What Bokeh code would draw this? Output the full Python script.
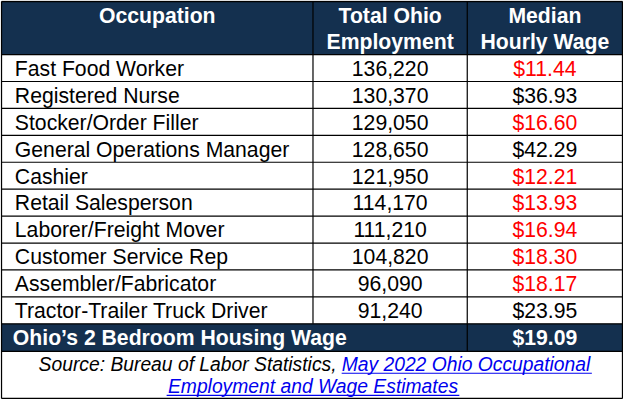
from bokeh.plotting import figure
from bokeh.models import Range1d
from bokeh.core.properties import value
from bokeh.embed import file_html
from bokeh.resources import INLINE

# ---- data ----
headers_col1 = ["Occupation"]
headers_col2 = ["Total Ohio", "Employment"]
headers_col3 = ["Median", "Hourly Wage"]
occupations = [
    "Fast Food Worker",
    "Registered Nurse",
    "Stocker/Order Filler",
    "General Operations Manager",
    "Cashier",
    "Retail Salesperson",
    "Laborer/Freight Mover",
    "Customer Service Rep",
    "Assembler/Fabricator",
    "Tractor-Trailer Truck Driver",
]
employment = [136220, 130370, 129050, 128650, 121950, 114170, 111210, 104820, 96090, 91240]
median_wage = [11.44, 36.93, 16.60, 42.29, 12.21, 13.93, 16.94, 18.30, 18.17, 23.95]
housing_label = "Ohio\u2019s 2 Bedroom Housing Wage"
housing_wage = 19.09
source_prefix = "Source: Bureau of Labor Statistics,"
source_link_1 = "May 2022 Ohio Occupational"
source_link_2 = "Employment and Wage Estimates"

# ---- style / layout ----
FONT = value("Liberation Sans")
NAVY = "#14304F"
RED = "#FF0000"
BLUE = "#0000EE"
FS = "21.2px"
FS_SRC = "19.3px"
MID = 7.6       # baseline -> visual middle offset (body font)
MID_SRC = 6.9   # same for source font

X0, X1, X2, X3 = 5, 320, 476, 633
Y_TOP, Y_HEAD, ROW_H, Y_BOTTOM = 5, 59, 27.4, 409
n = len(occupations)
row_tops = [Y_HEAD + i * ROW_H for i in range(n)]
Y_ROWS_END = Y_HEAD + n * ROW_H
Y_HW_END = Y_ROWS_END + 28
C1_LEFT = 18.5
C2_MID = (X1 + X2) / 2
C3_MID = (X2 + X3) / 2

p = figure(width=623, height=399, x_range=Range1d(4, 634), y_range=Range1d(410, 4),
           output_backend="svg", toolbar_location=None, min_border=0,
           x_axis_type=None, y_axis_type=None)
p.outline_line_color = None
p.background_fill_color = "white"

# navy bands
p.quad(left=[X0, X0], right=[X3, X3], top=[Y_TOP, Y_ROWS_END], bottom=[Y_HEAD, Y_HW_END],
       fill_color=NAVY, line_color=None)

# grid lines
hy = [Y_HEAD] + row_tops[1:] + [Y_ROWS_END, Y_HW_END]
p.segment(x0=[X0] * len(hy), x1=[X3] * len(hy), y0=hy, y1=hy, line_color="black", line_width=1.2)
p.segment(x0=[X1, X2], x1=[X1, X2], y0=[Y_TOP, Y_TOP], y1=[Y_ROWS_END, Y_HW_END],
          line_color="black", line_width=1.2)
# outer border
p.segment(x0=[X0, X3, X0, X0], x1=[X3, X3, X3, X0], y0=[Y_TOP, Y_TOP, Y_BOTTOM, Y_TOP],
          y1=[Y_TOP, Y_BOTTOM, Y_BOTTOM, Y_BOTTOM], line_color="black", line_width=1.3)

common = dict(text_font=FONT, text_baseline="middle")

# header text
hb1, hb2 = 26.7 - MID, 53.0 - MID
p.text(x=[(X0 + X1) / 2], y=[hb1], text=headers_col1, text_font_size=FS,
       text_font_style="bold", text_color="white", text_align="center", **common)
p.text(x=[C2_MID] * 2, y=[hb1, hb2], text=headers_col2, text_font_size=FS,
       text_font_style="bold", text_color="white", text_align="center", **common)
p.text(x=[C3_MID] * 2, y=[hb1, hb2], text=headers_col3, text_font_size=FS,
       text_font_style="bold", text_color="white", text_align="center", **common)

# body rows
mids = [t + 21.6 - MID for t in row_tops]
p.text(x=[C1_LEFT] * n, y=mids, text=occupations, text_font_size=FS,
       text_color="black", text_align="left", **common)
p.text(x=[C2_MID] * n, y=mids, text=[f"{v:,}" for v in employment],
       text_font_size=FS, text_color="black", text_align="center", **common)
p.text(x=[C3_MID] * n, y=mids, text=[f"${w:.2f}" for w in median_wage],
       text_font_size=FS, text_color=[RED if w < housing_wage else "black" for w in median_wage],
       text_align="center", **common)

# housing wage row
hw_mid = 354.3 - MID
p.text(x=[16.5], y=[hw_mid], text=[housing_label], text_font_size=FS,
       text_font_style="bold", text_color="white", text_align="left", **common)
p.text(x=[C3_MID], y=[hw_mid], text=[f"${housing_wage:.2f}"], text_font_size=FS,
       text_font_style="bold", text_color="white", text_align="center", **common)

# source
s1, s2 = 381.0, 403.5
p.text(x=[343.8], y=[s1 - MID_SRC], text=[source_prefix], text_font_size=FS_SRC,
       text_font_style="italic", text_color="black", text_align="right", **common)
p.text(x=[349], y=[s1 - MID_SRC], text=[source_link_1], text_font_size=FS_SRC,
       text_font_style="italic", text_color=BLUE, text_align="left", **common)
p.text(x=[320], y=[s2 - MID_SRC], text=[source_link_2], text_font_size=FS_SRC,
       text_font_style="italic", text_color=BLUE, text_align="center", **common)
p.segment(x0=[349, 172], x1=[602, 468], y0=[s1 + 2.3, s2 + 2.3], y1=[s1 + 2.3, s2 + 2.3],
          line_color=BLUE, line_width=1.1)

open("out.html", "w").write(file_html(p, INLINE))
